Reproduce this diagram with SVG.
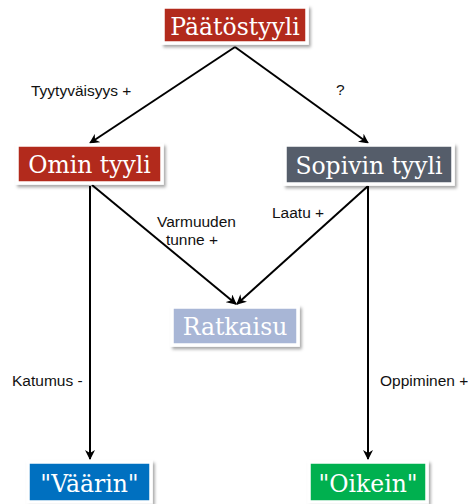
<svg xmlns="http://www.w3.org/2000/svg" width="468" height="504" viewBox="0 0 468 504">
  <style>
    .box { stroke: #ffffff; stroke-width: 3.5; filter: url(#shadow); }
    .title { font-family: "DejaVu Serif", "Liberation Serif", serif; font-size: 23.5px; fill: #ffffff; text-anchor: middle; }
    .label { font-family: "Liberation Sans", Arial, sans-serif; font-size: 15.5px; fill: #111111; }
    .edge { stroke: #000000; stroke-width: 2; fill: none; marker-end: url(#arrow); }
  </style>
  <defs>
    <filter id="shadow" x="-10%" y="-20%" width="125%" height="150%">
      <feDropShadow dx="2" dy="2.5" stdDeviation="1.6" flood-color="#000000" flood-opacity="0.35"/>
    </filter>
    <marker id="arrow" viewBox="0 0 10 10" refX="9" refY="5" markerWidth="5" markerHeight="5" orient="auto" markerUnits="strokeWidth">
      <path d="M0,0 L10,5 L0,10 L3,5 z" fill="#000000"/>
    </marker>
  </defs>

  <rect width="468" height="504" fill="#ffffff"/>

  <!-- connectors -->
  <g id="connectors">
    <line class="edge" x1="235" y1="47" x2="90" y2="143"/>
    <line class="edge" x1="235" y1="47" x2="368" y2="143"/>
    <line class="edge" x1="92" y1="185" x2="236" y2="304"/>
    <line class="edge" x1="368" y1="186" x2="237" y2="304"/>
    <line class="edge" x1="90" y1="186" x2="90" y2="459"/>
    <line class="edge" x1="368" y1="186" x2="368" y2="459"/>
  </g>

  <!-- edge labels -->
  <g id="labels">
    <text class="label" x="31" y="95.5">Tyytyväisyys +</text>
    <text class="label" x="336" y="95">?</text>
    <text class="label" x="196.5" y="227" text-anchor="middle">Varmuuden</text>
    <text class="label" x="192" y="245" text-anchor="middle">tunne +</text>
    <text class="label" x="272" y="218">Laatu +</text>
    <text class="label" x="12" y="385.5">Katumus -</text>
    <text class="label" x="380" y="385.5">Oppiminen +</text>
  </g>

  <g id="paatostyyli">
    <rect class="box" x="163" y="7" width="144" height="36" fill="#B22A1A"/>
    <text class="title" x="235" y="35">Päätöstyyli</text>
  </g>

  <g id="omin-tyyli">
    <rect class="box" x="17" y="145" width="145" height="38" fill="#B22A1A"/>
    <text class="title" x="89.5" y="173">Omin tyyli</text>
  </g>

  <g id="sopivin-tyyli">
    <rect class="box" x="285" y="145" width="168" height="39" fill="#545D6B"/>
    <text class="title" x="369" y="174">Sopivin tyyli</text>
  </g>

  <g id="ratkaisu">
    <rect class="box" x="172" y="307" width="126" height="38" fill="#A8B6D6"/>
    <text class="title" x="235" y="335">Ratkaisu</text>
  </g>

  <g id="vaarin">
    <rect class="box" x="28" y="462" width="123" height="40" fill="#0070C0"/>
    <text class="title" x="89.5" y="491.5">"Väärin"</text>
  </g>

  <g id="oikein">
    <rect class="box" x="309" y="462" width="118" height="40" fill="#00B050"/>
    <text class="title" x="368" y="491.5">"Oikein"</text>
  </g>
</svg>
